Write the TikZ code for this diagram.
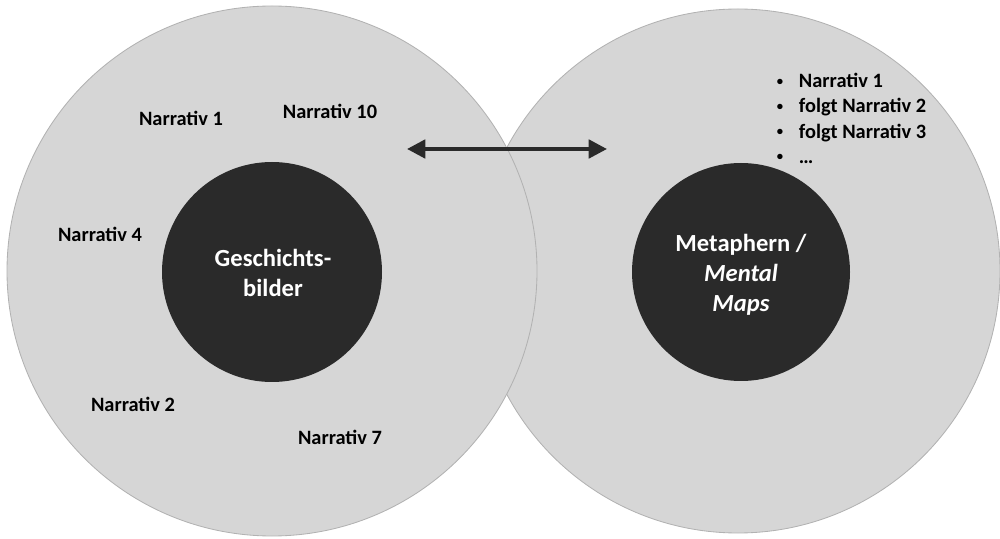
\documentclass[tikz,border=0pt]{standalone}
\usepackage{fontspec}
\setmainfont{Carlito}
\usepackage{xcolor}
\definecolor{ringgray}{RGB}{214,214,214}
\definecolor{ringedge}{RGB}{178,178,178}
\definecolor{coredark}{RGB}{42,42,42}
\usetikzlibrary{arrows.meta}
\newcommand{\seqdot}{\makebox[0.6cm][l]{\hspace{0.05cm}\fontsize{9}{9}\selectfont\raisebox{0.35ex}{•}}}

\begin{document}
\begin{tikzpicture}[font=\bfseries\fontsize{14.5}{17.8}\selectfont,
  ring/.style={draw=ringedge,line width=0.6pt,fill=ringgray},
  core/.style={fill=coredark,text=white,align=center,font=\bfseries\fontsize{17.5}{21.3}\selectfont}]
  \useasboundingbox (0,0) rectangle (25,13.45);
  % outer rings, right one first
  \draw[ring] (18.45,6.675) circle (6.55);
  \draw[ring] (6.8,6.675) circle (6.625);
  % dark centres
  \fill[coredark] (6.8,6.65) circle (2.75);
  \fill[coredark] (18.525,6.65) circle (2.725);
  \node[core] (bild) at (6.825,6.625) {Geschichts-\\bilder};
  \node[core] (meta) at (18.525,6.575) {Metaphern /\\\textit{Mental}\\\textit{Maps}};
  % narratives on the left
  \node (n1) at (4.525,10.5) {Narrativ 1};
  \node (n10) at (8.25,10.675) {Narrativ 10};
  \node (n4) at (2.5,7.6) {Narrativ 4};
  \node (n2) at (3.325,3.35) {Narrativ 2};
  \node (n7) at (8.5,2.525) {Narrativ 7};
  % sequence on the right
  \node[anchor=west,align=left] (seq) at (19.25,10.49) {%
    \seqdot Narrativ 1\\
    \seqdot folgt Narrativ 2\\
    \seqdot folgt Narrativ 3\\
    \seqdot …};
  \coordinate (la) at (10.175,9.725);
  \coordinate (ra) at (15.175,9.725);
  \draw[{Triangle[length=13pt,width=13pt]}-{Triangle[length=13pt,width=13pt]},coredark,line width=2.8pt] (la)--(ra);
\end{tikzpicture}
\end{document}
